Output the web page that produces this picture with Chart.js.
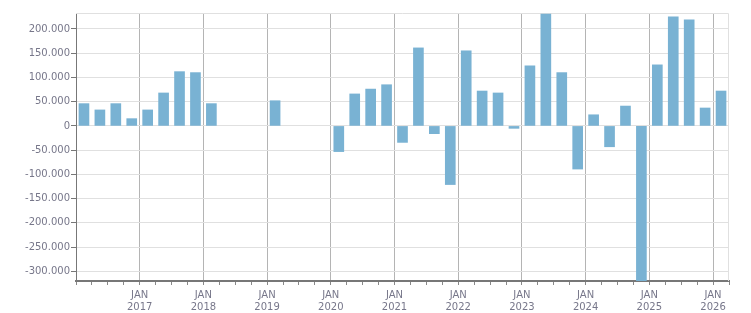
<!DOCTYPE html>
<html>
<head>
<meta charset="utf-8">
<script src="https://cdn.jsdelivr.net/npm/chart.js@4/dist/chart.umd.min.js"></script>
<style>
  html, body { margin: 0; background: #fff; }
  #wrap { width: 751px; height: 313px; }
</style>
</head>
<body>
<div id="wrap"><canvas id="chart"></canvas></div>
<script>
const quarters = [
  "2016-Q1","2016-Q2","2016-Q3","2016-Q4",
  "2017-Q1","2017-Q2","2017-Q3","2017-Q4",
  "2018-Q1","2018-Q2","2018-Q3","2018-Q4",
  "2019-Q1","2019-Q2","2019-Q3","2019-Q4",
  "2020-Q1","2020-Q2","2020-Q3","2020-Q4",
  "2021-Q1","2021-Q2","2021-Q3","2021-Q4",
  "2022-Q1","2022-Q2","2022-Q3","2022-Q4",
  "2023-Q1","2023-Q2","2023-Q3","2023-Q4",
  "2024-Q1","2024-Q2","2024-Q3","2024-Q4",
  "2025-Q1","2025-Q2","2025-Q3","2025-Q4",
  "2026-Q1"
];
// null = no value reported for that quarter
const values = [
  46000, 33000, 46000, 15000,
  33000, 68000, 112000, 110000,
  46000, null, null, null,
  52000, null, null, null,
  -53000, 66000, 76000, 85000,
  -34000, 161000, -16000, -121000,
  155000, 72000, 68000, -5000,
  124000, 231000, 110000, -89000,
  23000, -43000, 41000, -320000,
  126000, 225000, 219000, 37000,
  72000
];
const yTicks = [-300000, -250000, -200000, -150000, -100000, -50000, 0, 50000, 100000, 150000, 200000];
const yMin = -320000;
const yMax = 233000;
const monthLabel = "JAN";

const textColor = "#77778a";
const font = { family: "DejaVu Sans", size: 10 };

function fmt(v) {
  const s = String(Math.abs(v)).replace(/\B(?=(\d{3})+(?!\d))/g, ".");
  return (v < 0 ? "-" : "") + s;
}

// light frame on top and right of the plot area
const frame = {
  id: "frame",
  beforeDatasetsDraw(chart) {
    const { ctx, chartArea: a } = chart;
    ctx.save();
    ctx.strokeStyle = "#e0e0e0";
    ctx.lineWidth = 1;
    ctx.beginPath();
    ctx.moveTo(a.left, a.top + 0.5);
    ctx.lineTo(a.right - 0.5, a.top + 0.5);
    ctx.lineTo(a.right - 0.5, a.bottom);
    ctx.stroke();
    ctx.restore();
  }
};

new Chart(document.getElementById("chart"), {
  type: "bar",
  data: {
    labels: quarters,
    datasets: [{
      data: values,
      backgroundColor: "#79b2d3",
      barThickness: 10
    }]
  },
  options: {
    responsive: true,
    maintainAspectRatio: false,
    animation: false,
    layout: { padding: { top: 13, right: 22, left: 0, bottom: 0 } },
    plugins: { legend: { display: false }, tooltip: { enabled: false } },
    scales: {
      x: {
        offset: true,
        grid: {
          offset: true,
          color: c => (c.index > 0 && c.index % 4 === 0) ? "#b4b4b4" : "rgba(0,0,0,0)",
          tickColor: "#888",
          tickLength: 4,
          lineWidth: 1
        },
        border: { color: "#777", width: 2 },
        ticks: {
          autoSkip: false,
          maxRotation: 0,
          minRotation: 0,
          labelOffset: -8,
          padding: 4,
          color: textColor,
          font: font,
          callback: (v, i) => {
            const q = quarters[i];
            return (i > 0 && q.endsWith("Q1")) ? [monthLabel, q.slice(0, 4)] : "";
          }
        },
        afterFit: s => { s.height = 32; }
      },
      y: {
        min: yMin,
        max: yMax,
        grid: { color: "#e0e0e0", tickColor: "#777", tickLength: 5 },
        border: { color: "#777", width: 1 },
        ticks: {
          padding: 1,
          color: textColor,
          font: font,
          callback: v => fmt(v)
        },
        afterBuildTicks: s => { s.ticks = yTicks.map(v => ({ value: v })); },
        afterFit: s => { s.width = 76; }
      }
    }
  },
  plugins: [frame]
});
</script>
</body>
</html>
